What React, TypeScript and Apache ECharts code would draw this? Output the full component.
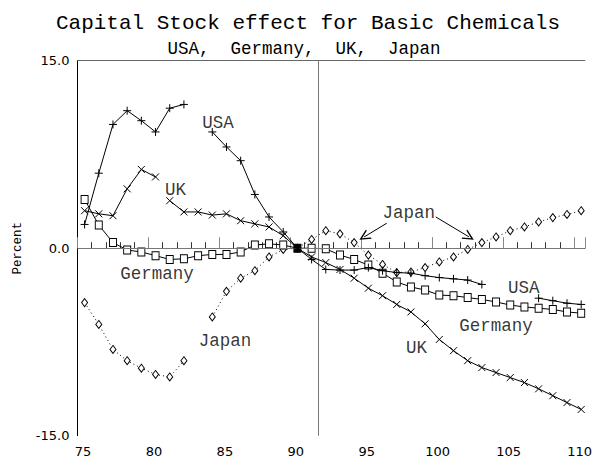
import React, { useEffect, useRef } from "react";
import * as echarts from "echarts";

// Years (data are annual, plotted at mid-year)
const years = [75, 76, 77, 78, 79, 80, 81, 82, 83, 84, 85, 86, 87, 88, 89, 90, 91, 92, 93, 94, 95, 96, 97, 98, 99, 100, 101, 102, 103, 104, 105, 106, 107, 108, 109, 110];

const usaValues: (number | null)[] = [1.9, 6.0, 9.9, 11.0, 10.2, 9.3, 11.2, 11.5, null, 9.3, 8.1, 7.0, 4.3, 2.5, 1.3, 0, -0.9, -1.7, -1.75, -1.75, -1.55, -1.8, -1.95, -2.0, -2.2, -2.35, -2.45, -2.55, -2.9, null, null, null, -4.0, -4.2, -4.4, -4.5];
const ukValues: (number | null)[] = [3.0, 2.75, 2.6, 4.75, 6.3, 5.7, 3.8, 2.9, 2.9, 2.65, 2.75, 2.2, 1.95, 1.7, 1.0, 0, -0.7, -1.15, -1.7, -2.4, -3.2, -3.8, -4.5, -5.1, -6.05, -7.3, -8.2, -9.0, -9.55, -9.95, -10.35, -10.75, -11.25, -11.8, -12.35, -12.9];
const ukBreakAfter = [80];
const germanyValues: (number | null)[] = [3.9, 1.85, 0.45, -0.15, -0.3, -0.6, -0.9, -0.85, -0.6, -0.5, -0.5, -0.3, 0.25, 0.35, 0.25, 0, 0, -0.05, -0.55, -0.9, -1.35, -2.0, -2.7, -3.1, -3.35, -3.75, -3.8, -3.95, -4.1, -4.3, -4.55, -4.7, -4.8, -4.9, -5.1, -5.2];
const japanValues: (number | null)[] = [-4.35, -6.1, -8.1, -9.0, -9.6, -10.1, -10.3, -9.0, null, -5.5, -3.45, -2.4, -1.8, -0.7, -0.1, 0, 0.7, 1.4, 1.15, 0.45, -0.55, -1.3, -1.95, -1.9, -1.55, -1.1, -0.7, -0.1, 0.45, 0.9, 1.4, 1.7, 2.1, 2.45, 2.7, 3.0];

const baseYear = 90; // all series = 0 in base year
const cutoffYear = 92; // vertical reference line

const xMin = 75;
const xMax = 110.76;
const yTicks = [-15, 0, 15];

// Annotations: [x, y, text] in data units
const annotations: [number, number, string][] = [
  [84.9, 10.0, "USA"],
  [81.9, 4.65, "UK"],
  [80.6, -2.05, "Germany"],
  [85.4, -7.4, "Japan"],
  [98.35, 2.8, "Japan"],
  [106.45, -3.2, "USA"],
  [104.5, -6.2, "Germany"],
  [98.9, -8.0, "UK"],
];
// Arrows: [fromX, fromY, toX, toY]
const arrows: [number, number, number, number][] = [
  [96.8, 2.0, 95.2, 0.9],
  [100.25, 2.5, 102.6, 0.9],
];

const MID = 0.5;

function toData(values: (number | null)[], breakAfter: number[] = [], filledYear?: number) {
  const out: any[] = [];
  years.forEach((y, i) => {
    const v = values[i];
    if (filledYear !== undefined && y === filledYear && v !== null) {
      out.push({ value: [y + MID, v], itemStyle: { color: "#000" } });
    } else {
      out.push([y + MID, v === null ? "-" : v]);
    }
    if (breakAfter.includes(y)) out.push([y + 1, "-"]);
  });
  return out;
}

const MONO = "Liberation Mono";
const SANS = "DejaVu Sans";

export default function App() {
  const ref = useRef<HTMLDivElement>(null);
  useEffect(() => {
    document.body.style.margin = "0";
    if (!ref.current) return;
    const chart = echarts.init(ref.current, undefined, { renderer: "svg" });
    const plusPath = "path://M5,0L5,10M0,5L10,5";
    const crossPath = "path://M0,0L10,10M10,0L0,10";
    const chevron = "path://M0,10L5,0L10,10L8.6,10L5,2.8L1.4,10Z";
    chart.setOption({
      animation: false,
      backgroundColor: "#fff",
      graphic: [
        {
          type: "text",
          x: 308,
          y: 23,
          style: { text: "Capital Stock effect for Basic Chemicals", fontFamily: MONO, fontSize: 21, fill: "#000", align: "center", verticalAlign: "middle" },
        },
        {
          type: "text",
          x: 304,
          y: 48.5,
          style: { text: "USA,  Germany,  UK,  Japan", fontFamily: MONO, fontSize: 17.5, fill: "#000", align: "center", verticalAlign: "middle" },
        },
      ],
      grid: { left: 77.5, right: 0, top: 60.7, bottom: 27.3, show: false },
      xAxis: [
        {
          type: "value",
          min: xMin,
          max: xMax,
          interval: 5,
          axisLine: { show: true, lineStyle: { color: "#000", width: 1 } },
          axisTick: { show: true, inside: true, length: 11, lineStyle: { color: "#888" } },
          minorTick: { show: true, splitNumber: 5, length: 6, lineStyle: { color: "#333" } },
          splitLine: { show: false },
          axisLabel: {
            fontFamily: SANS,
            fontSize: 13,
            color: "#000",
            margin: 9,
            padding: [0, 0, 0, 11],
            formatter: (v: number) => (Math.abs(v % 5) < 1e-6 ? String(Math.round(v)) : ""),
          },
        },
        {
          type: "value",
          position: "top",
          min: xMin,
          max: xMax,
          interval: 5,
          axisLine: { show: true, onZero: false, lineStyle: { color: "#666", width: 1 } },
          axisTick: { show: false },
          axisLabel: { show: false },
          splitLine: { show: false },
        },
      ],
      yAxis: {
        type: "value",
        min: yTicks[0],
        max: yTicks[yTicks.length - 1],
        interval: 15,
        name: "Percent",
        nameLocation: "middle",
        nameGap: 53,
        nameTextStyle: { fontFamily: MONO, fontSize: 12.5, color: "#000" },
        axisLine: { show: true, onZero: false, lineStyle: { color: "#000", width: 1 } },
        axisTick: { show: false },
        splitLine: { show: false },
        axisLabel: {
          fontFamily: SANS,
          fontSize: 13,
          color: "#000",
          margin: 8,
          padding: [8, 0, 0, 0],
          formatter: (v: number) => v.toFixed(1),
        },
      },
      series: [
        {
          name: "Reference",
          type: "line",
          data: [],
          markLine: {
            silent: true,
            symbol: ["none", "none"],
            label: { show: false },
            lineStyle: { color: "#777", width: 1, type: "solid" },
            data: [{ yAxis: 0 }, { xAxis: cutoffYear }],
          },
        },
        {
          name: "Japan",
          type: "line",
          data: toData(japanValues),
          symbol: "diamond",
          symbolSize: [6, 8],
          itemStyle: { color: "#fff", borderColor: "#000", borderWidth: 1 },
          lineStyle: { color: "#000", width: 1, type: [1, 3] },
          z: 3,
        },
        {
          name: "Germany",
          type: "line",
          data: toData(germanyValues, [], baseYear),
          symbol: "rect",
          symbolSize: [7, 8],
          itemStyle: { color: "#fff", borderColor: "#000", borderWidth: 1 },
          lineStyle: { color: "#000", width: 1 },
          z: 4,
        },
        {
          name: "UK",
          type: "line",
          data: toData(ukValues, ukBreakAfter),
          symbol: crossPath,
          symbolSize: 7,
          itemStyle: { color: "#000", borderColor: "#000", borderWidth: 1 },
          lineStyle: { color: "#000", width: 1 },
          z: 5,
        },
        {
          name: "USA",
          type: "line",
          data: toData(usaValues),
          symbol: plusPath,
          symbolSize: 8,
          itemStyle: { color: "#000", borderColor: "#000", borderWidth: 1 },
          lineStyle: { color: "#000", width: 1 },
          z: 5,
        },
        {
          name: "Labels",
          type: "scatter",
          symbol: "circle",
          symbolSize: 1,
          itemStyle: { color: "rgba(0,0,0,0)" },
          data: annotations.map((a) => ({ value: [a[0], a[1]], name: a[2] })),
          label: {
            show: true,
            position: "inside",
            formatter: "{b}",
            fontFamily: MONO,
            fontSize: 17.5,
            color: "#000",
          },
          z: 6,
          markLine: {
            silent: true,
            symbol: ["none", chevron],
            symbolSize: 11,
            label: { show: false },
            lineStyle: { color: "#000", width: 1, type: "solid" },
            data: arrows.map((a) => [{ coord: [a[0], a[1]] }, { coord: [a[2], a[3]] }]),
          },
        },
      ],
    });
    return () => chart.dispose();
  }, []);
  return <div ref={ref} style={{ width: 595, height: 463 }} />;
}
